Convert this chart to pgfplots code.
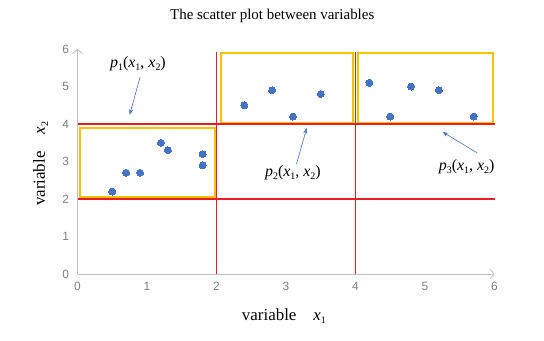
\documentclass[border=0pt]{standalone}
\usepackage{fontspec}
\setmainfont{Liberation Serif}
\newfontfamily\tickfont{Liberation Sans}
\usepackage{pgfplots}
\pgfplotsset{compat=1.18}
\usetikzlibrary{arrows.meta}
\definecolor{ptblue}{RGB}{68,114,196}
\definecolor{boxgold}{RGB}{255,192,0}
\definecolor{divred}{RGB}{235,28,36}
\definecolor{axgray}{RGB}{191,191,191}
\definecolor{tickgray}{RGB}{128,128,128}
\newcommand\sub[1]{\raisebox{-0.4ex}{\fontsize{10}{10}\selectfont #1}}
\newcommand\pl[1]{\textit{p}\sub{#1}(\textit{x}\sub{1}, \textit{x}\sub{2})}

\begin{document}
\begin{tikzpicture}[x=1bp,y=1bp]
\useasboundingbox (0,0) rectangle (544,340);
\begin{axis}[
  at={(77.5bp,66bp)}, anchor=south west,
  scale only axis, width=417bp, height=225bp,
  xmin=0, xmax=6, ymin=0, ymax=6,
  axis x line=bottom, axis y line=left,
  axis line style={axgray, line width=0.8bp},
  x axis line style={-{Straight Barb[length=4bp,width=10bp]}},
  y axis line style={-{Straight Barb[length=4bp,width=10bp]}},
  xtick={0,1,...,6}, ytick={0,1,...,6},
  major tick length=0pt,
  tick label style={font=\tickfont\fontsize{12}{14}\selectfont, text=tickgray},
  /pgf/number format/assume math mode=true,
  xticklabel style={yshift=-5bp},
  yticklabel style={xshift=-5bp},
  clip=false,
  unbounded coords=jump,
  title={The scatter plot between variables},
  title style={at={(axis description cs:0.467,1.12)}, anchor=center, font=\fontsize{15}{18}\selectfont},
  xlabel={variable\quad\textit{x}\sub{1}},
  xlabel style={at={(axis description cs:0.495,-0.187)}, anchor=center, font=\fontsize{17}{20}\selectfont},
  ylabel={variable\quad\textit{x}\sub{2}},
  ylabel style={at={(axis description cs:-0.0885,0.489)}, anchor=center, rotate=0, font=\fontsize{17}{20}\selectfont},
]
% dividing lines
\addplot[draw=divred, line width=1.4bp, mark=none] coordinates {(2,0) (2,5.92) (nan,nan) (4,0) (4,5.92) (nan,nan) (0,2) (6,2)};
% groups
\addplot[draw=boxgold, line width=2bp, line join=miter, mark=none] coordinates {(0.03,2.05) (1.98,2.05) (1.98,3.89) (0.03,3.89)} -- cycle;
\addplot[draw=boxgold, line width=2bp, line join=miter, mark=none] coordinates {(2.06,4.03) (3.96,4.03) (3.96,5.89) (2.06,5.89)} -- cycle;
\addplot[draw=boxgold, line width=2bp, line join=miter, mark=none] coordinates {(4.03,4.03) (5.98,4.03) (5.98,5.89) (4.03,5.89)} -- cycle;
\addplot[draw=divred, line width=1.5bp, mark=none] coordinates {(0,4) (6,4)};
% points
\addplot[only marks, mark=*, mark size=3.5bp, color=ptblue, mark options={fill=ptblue, draw=ptblue, line width=0pt}] coordinates {
  (0.5,2.2) (0.7,2.7) (0.9,2.7) (1.2,3.5) (1.3,3.3) (1.8,3.2) (1.8,2.9)
  (2.4,4.5) (2.8,4.9) (3.1,4.2) (3.5,4.8)
  (4.2,5.1) (4.5,4.2) (4.8,5.0) (5.2,4.9) (5.7,4.2)
};
% annotations
\node[font=\fontsize{16}{19}\selectfont] at (axis cs:0.87,5.6) {\pl{1}};
\node[font=\fontsize{16}{19}\selectfont] at (axis cs:3.1,2.7) {\pl{2}};
\node[font=\fontsize{16}{19}\selectfont] at (axis cs:5.6,2.86) {\pl{3}};
\draw[ptblue, line width=0.6bp, -{Stealth[length=6bp,width=4bp]}] (axis cs:0.9,5.25) -- (axis cs:0.75,4.24);
\draw[ptblue, line width=0.6bp, -{Stealth[length=6bp,width=4bp]}] (axis cs:3.15,2.93) -- (axis cs:3.3,3.9);
\draw[ptblue, line width=0.6bp, -{Stealth[length=6bp,width=4bp]}] (axis cs:5.75,3.23) -- (axis cs:5.25,3.79);
\end{axis}
\end{tikzpicture}
\end{document}
